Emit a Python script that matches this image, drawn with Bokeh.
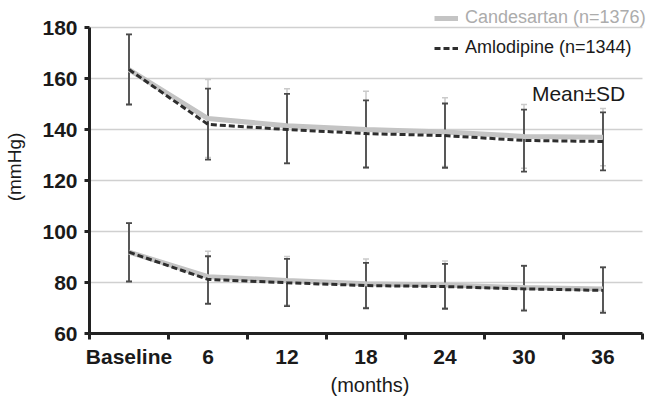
import numpy as np
from bokeh.plotting import figure
from bokeh.models import (ColumnDataSource, Whisker, TeeHead, FixedTicker, Legend,
                          LegendItem, Label, Range1d)
from bokeh.embed import file_html
from bokeh.resources import INLINE

categories = ["Baseline", "6", "12", "18", "24", "30", "36"]

# Systolic BP (mmHg)
cand_sbp = [163.5, 144.3, 141.5, 140.0, 139.0, 137.3, 137.0]
cand_sbp_up = [177.3, 159.6, 156.0, 155.0, 152.5, 149.8, 148.2]
cand_sbp_lo = [149.8, 129.0, 127.0, 125.0, 125.5, 124.8, 125.8]
aml_sbp = [163.5, 142.0, 140.0, 138.4, 137.6, 135.7, 135.3]
aml_sbp_up = [177.3, 156.0, 154.0, 151.4, 150.2, 147.8, 146.7]
aml_sbp_lo = [149.8, 128.2, 126.7, 125.1, 125.0, 123.5, 124.0]

# Diastolic BP (mmHg)
dbp_cand = [91.9, 82.3, 80.8, 79.5, 79.0, 78.0, 77.5]
dbp_cand_up = [103.3, 92.3, 90.2, 89.2, 88.4, 86.8, 86.2]
dbp_cand_lo = [80.4, 72.0, 71.2, 70.2, 70.0, 69.4, 68.7]
dbp_aml = [91.9, 81.2, 79.9, 78.8, 78.4, 77.5, 76.9]
dbp_aml_up = [103.3, 90.3, 89.3, 87.7, 87.3, 86.5, 85.9]
dbp_aml_lo = [80.4, 71.6, 70.7, 69.9, 69.7, 69.0, 68.1]

y_ticks = [60, 80, 100, 120, 140, 160, 180]

xs = np.arange(len(categories)) + 0.5
N = len(categories)

# frame spans the full top/right so the legend is not clipped;
# axis lines and grid are bounded to the data area
FRAME_H, DATA_H = 333, 306
FRAME_W, DATA_W = 561, 553
Y_LO, Y_HI = 60, 180
y_top = Y_LO + (Y_HI - Y_LO) * FRAME_H / DATA_H
x_right = N * FRAME_W / DATA_W

p = figure(width=650, height=398, output_backend="svg", toolbar_location=None,
           x_range=Range1d(0, x_right), y_range=Range1d(Y_LO, y_top),
           min_border_left=89, min_border_right=0, min_border_top=0, min_border_bottom=65)
p.outline_line_color = None
p.background_fill_color = "white"
p.border_fill_color = "white"

LIGHT = "#c4c4c4"
DARK = "#2e2e2e"

def add_series(mean, up, lo, color, width, dash, head_color, whisker_width):
    src = ColumnDataSource(dict(x=xs, y=mean, upper=up, lower=lo))
    w = Whisker(source=src, base="x", upper="upper", lower="lower",
                line_color=head_color, line_width=whisker_width,
                upper_head=TeeHead(size=6, line_color=head_color, line_width=whisker_width),
                lower_head=TeeHead(size=6, line_color=head_color, line_width=whisker_width))
    p.add_layout(w)
    r = p.line("x", "y", source=src, line_color=color, line_width=width, line_dash=dash)
    return r

c1 = add_series(cand_sbp, cand_sbp_up, cand_sbp_lo, LIGHT, 5, "solid", "#cacaca", 1.5)
c2 = add_series(dbp_cand, dbp_cand_up, dbp_cand_lo, LIGHT, 5, "solid", "#cacaca", 1.5)
a1 = add_series(aml_sbp, aml_sbp_up, aml_sbp_lo, DARK, 3, "6 3", "#4a4a4a", 1.8)
a2 = add_series(dbp_aml, dbp_aml_up, dbp_aml_lo, DARK, 3, "6 3", "#4a4a4a", 1.8)

# axes
p.xaxis.ticker = FixedTicker(ticks=list(xs), minor_ticks=list(range(N + 1)))
p.xaxis.bounds = (0, N)
p.xaxis.major_label_overrides = {float(x): c for x, c in zip(xs, categories)}
p.xaxis.major_tick_line_color = None
p.xaxis.major_tick_out = 0
p.xaxis.major_tick_in = 0
p.xaxis.minor_tick_out = 6
p.xaxis.minor_tick_in = 0
p.xaxis.minor_tick_line_width = 3
p.xaxis.minor_tick_line_color = "#222222"
p.xaxis.axis_label = "(months)"
p.xaxis.major_label_standoff = 5
p.xaxis.axis_label_standoff = 3
p.xaxis.axis_label_text_font_size = "20px"

p.yaxis.ticker = FixedTicker(ticks=y_ticks)
p.yaxis.bounds = (Y_LO, Y_HI)
p.yaxis.axis_label = "(mmHg)"
p.yaxis.minor_tick_line_color = None
p.yaxis.major_tick_out = 5
p.yaxis.major_tick_in = 0
p.yaxis.major_tick_line_width = 3
p.yaxis.major_tick_line_color = "#222222"
p.yaxis.major_label_standoff = 7
p.yaxis.axis_label_standoff = 14
p.yaxis.axis_label_text_font_size = "19px"

for ax in (p.xaxis, p.yaxis):
    ax.axis_line_width = 3
    ax.axis_line_color = "#222222"
    ax.major_label_text_font = "Liberation Sans"
    ax.major_label_text_font_style = "bold"
    ax.major_label_text_font_size = "21px"
    ax.major_label_text_color = "#1a1a1a"
    ax.axis_label_text_font = "Liberation Sans"
    ax.axis_label_text_font_style = "normal"
    ax.axis_label_text_color = "#1a1a1a"

p.xgrid.grid_line_color = None
p.ygrid.ticker = FixedTicker(ticks=y_ticks)
p.ygrid.cross_bounds = (0, N)
p.ygrid.grid_line_color = "#d0d0d0"
p.ygrid.grid_line_width = 1.5

# legends
def make_legend(label, renderer, color, loc):
    lg = Legend(items=[LegendItem(label=label, renderers=[renderer])], location=loc,
                padding=0, margin=0, border_line_color=None, background_fill_alpha=0,
                glyph_width=24, glyph_height=20, label_height=20, label_standoff=7,
                label_text_font="Liberation Sans", label_text_font_size="18px",
                label_text_color=color)
    p.add_layout(lg, "center")

make_legend("Candesartan (n=1376)", c1, "#acacac", (345, 305))
make_legend("Amlodipine (n=1344)", a1, "#1a1a1a", (345, 275))

p.add_layout(Label(x=5.6, y=154, text="Mean\u00b1SD", text_font="Liberation Sans",
                   text_font_size="21px", text_color="#1a1a1a", text_baseline="middle"))

open("out.html", "w").write(file_html(p, INLINE))
